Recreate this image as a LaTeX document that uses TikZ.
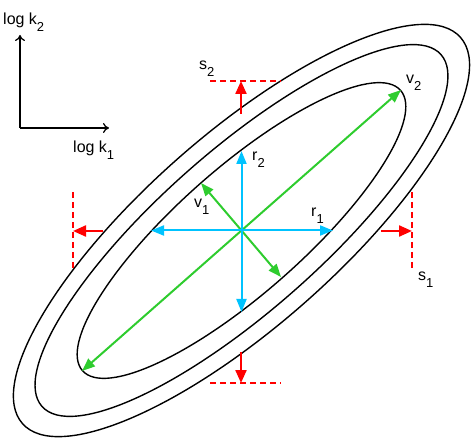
\documentclass[tikz,border=0pt]{standalone}
\usepackage{fontspec}
\setmainfont{Liberation Sans}
\usetikzlibrary{arrows.meta}
\definecolor{vgreen}{RGB}{46,204,46}
\definecolor{rcyan}{RGB}{0,195,255}
\definecolor{sred}{RGB}{255,0,0}
\newcommand{\lbl}[2]{#1\raisebox{-0.38em}{\fontsize{13}{13}\selectfont #2}}
\begin{document}
\begin{tikzpicture}[x=1pt,y=-1pt,
  contour/.style={draw=black,line width=1.4pt},
  axisline/.style={draw=black,line width=1.3pt,-{To[length=6pt,width=10pt,line width=1.3pt]}},
  varrow/.style={draw=vgreen,line width=2pt,-{Triangle[length=13pt,width=10pt]}},
  rarrow/.style={draw=rcyan,line width=2pt,-{Triangle[length=13pt,width=10pt]}},
  sarrow/.style={draw=sred,line width=2.2pt,-{Triangle[length=13pt,width=11pt]}},
  sline/.style={draw=sred,line width=2.6pt,dash pattern=on 6pt off 4pt},
  txt/.style={font=\fontsize{16}{18}\selectfont,inner sep=0pt,anchor=base west},
  stxt/.style={font=\fontsize{16}{18}\selectfont,inner sep=0pt,anchor=base west}]
\useasboundingbox (0,0) rectangle (474,438);
\coordinate (c) at (241.5,230.5);
% contours
\draw[contour,rotate around={41.4:(c)}] (c) ellipse [x radius=212pt, y radius=62.5pt];
\draw[contour,rotate around={41.4:(c)}] (c) ellipse [x radius=266pt, y radius=80pt];
\draw[contour,rotate around={41.4:(c)}] (c) ellipse [x radius=292pt, y radius=96pt];
% axes
\coordinate (o) at (20,128);
\coordinate (ax2) at (20,35);
\coordinate (ax1) at (109,128);
\draw[axisline] (o) -- (ax2);
\draw[axisline] (o) -- (ax1);
\node[txt] (lk2) at (3,25) {\lbl{log k}{2}};
\node[txt] (lk1) at (73,153) {\lbl{log k}{1}};
% principal axes
\coordinate (v2a) at (401,90);
\coordinate (v2b) at (82,371);
\coordinate (v1a) at (201,183);
\coordinate (v1b) at (281,277);
\draw[varrow] (c) -- (v2a);
\draw[varrow] (c) -- (v2b);
\draw[varrow] (c) -- (v1a);
\draw[varrow] (c) -- (v1b);
\coordinate (r1a) at (333,230.5);
\coordinate (r1b) at (151,230.5);
\coordinate (r2a) at (241.5,151);
\coordinate (r2b) at (241.5,312);
\draw[rarrow] (c) -- (r1a);
\draw[rarrow] (c) -- (r1b);
\draw[rarrow] (c) -- (r2a);
\draw[rarrow] (c) -- (r2b);
\node[stxt] (lv2) at (406,84) {\lbl{v}{2}};
\node[stxt] (lv1) at (194,208) {\lbl{v}{1}};
\node[stxt] (lr2) at (252,161) {\lbl{r}{2}};
\node[stxt] (lr1) at (311,217) {\lbl{r}{1}};
% bounds
\coordinate (tA) at (241,114); \coordinate (tB) at (241,81);
\coordinate (tL) at (210,81); \coordinate (tR) at (281,81);
\coordinate (bA) at (241,352); \coordinate (bB) at (241,383);
\coordinate (bL) at (210,383); \coordinate (bR) at (281,383);
\coordinate (rA) at (381,231); \coordinate (rB) at (412,231);
\coordinate (rT) at (412,192); \coordinate (rD) at (412,270);
\coordinate (lA) at (103,231); \coordinate (lB) at (73,231);
\coordinate (lT) at (73,192); \coordinate (lD) at (73,270);
\draw[sline] (tL) -- (tR);
\draw[sline] (bL) -- (bR);
\draw[sline] (rT) -- (rD);
\draw[sline] (lT) -- (lD);
\draw[sarrow] (tA) -- (tB);
\draw[sarrow] (bA) -- (bB);
\draw[sarrow] (rA) -- (rB);
\draw[sarrow] (lA) -- (lB);
\node[stxt] (ls2) at (199,70) {\lbl{s}{2}};
\node[stxt] (ls1) at (418,281) {\lbl{s}{1}};
\end{tikzpicture}
\end{document}
